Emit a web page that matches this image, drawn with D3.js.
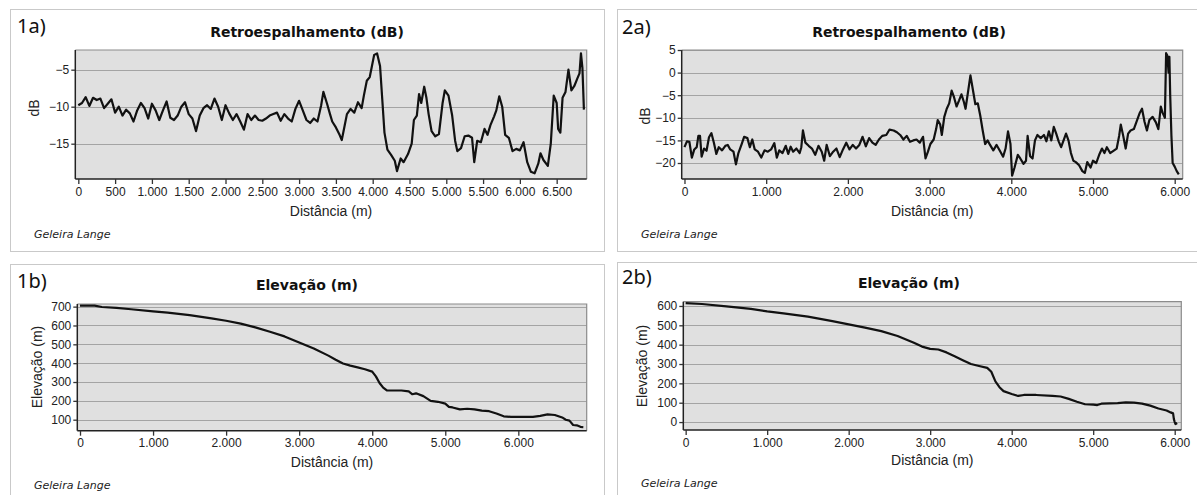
<!DOCTYPE html>
<html>
<head>
<meta charset="utf-8">
<script src="https://cdn.jsdelivr.net/npm/d3@7"></script>
<style>
  body { margin:0; background:#fff; }
  .tick text { font-family:"Liberation Sans", Arial, sans-serif; font-size:12px; fill:#222; }
</style>
</head>
<body>
<div id="canvas"></div>
<script>
// ---- data ----
// 1a) backscatter, glacier profile 1
const retro1Dist = [0,50,100,150,200,250,300,350,400,450,500,550,600,650,700,750,800,850,900,950,
  1000,1050,1100,1150,1200,1250,1300,1350,1400,1450,1500,1550,1600,1650,1700,1750,1800,1850,1900,1950,
  2000,2050,2100,2150,2200,2250,2300,2350,2400,2450,2500,2550,2600,2650,2700,2750,2800,2850,2900,2950,
  3000,3050,3100,3150,3200,3250,3300,3330,3380,3420,3450,3500,3550,3580,3620,3650,3700,3750,3800,3850,
  3880,3920,3960,3990,4020,4060,4100,4130,4160,4200,4250,4300,4330,4380,4420,4480,4530,4560,4600,4630,
  4660,4700,4730,4760,4800,4850,4900,4950,4980,5030,5080,5120,5150,5200,5250,5300,5350,5380,5420,5470,
  5520,5560,5600,5650,5680,5720,5760,5800,5850,5900,5950,6000,6050,6100,6150,6200,6250,6280,6320,6380,
  6420,6460,6500,6520,6550,6580,6620,6660,6700,6740,6780,6810,6830,6850,6870]
const retro1Db = [-9.8,-9.5,-8.7,-9.9,-8.8,-9.1,-8.9,-10.2,-9.6,-9.0,-10.8,-10.0,-11.2,-10.4,-10.9,-12.0,-10.5,-9.5,-10.2,-11.6,
  -9.6,-10.5,-11.8,-10.5,-9.3,-11.5,-11.8,-11.2,-10.0,-9.4,-11.0,-11.6,-13.3,-11.2,-10.2,-9.8,-10.3,-8.9,-10.0,-11.8,
  -9.8,-10.9,-11.8,-11.0,-12.0,-13.1,-11.0,-11.8,-11.2,-11.8,-11.9,-11.6,-11.2,-11.0,-10.8,-11.9,-11.0,-11.6,-12.0,-10.3,
  -9.2,-10.5,-11.8,-12.2,-11.6,-12.0,-9.8,-8.0,-9.6,-11.0,-12.0,-12.8,-13.8,-14.5,-12.5,-11.0,-10.3,-10.8,-9.4,-10.2,
  -8.5,-6.5,-6.0,-4.5,-3.0,-2.8,-4.5,-9.0,-13.5,-15.8,-16.5,-17.3,-18.7,-17.0,-17.5,-16.4,-15.0,-11.8,-11.2,-8.3,
  -9.5,-7.3,-8.8,-11.0,-13.3,-14.0,-13.7,-9.5,-7.8,-8.5,-11.2,-14.6,-16.0,-15.6,-14.0,-13.9,-14.2,-17.5,-14.6,-14.8,
  -13.0,-13.8,-12.5,-11.3,-10.5,-8.6,-10.0,-13.8,-14.2,-16.0,-15.7,-15.9,-14.8,-17.5,-18.8,-19.0,-17.7,-16.3,-17.2,-18.0,
  -15.0,-8.5,-9.5,-13.0,-13.5,-8.8,-8.0,-5.0,-7.8,-7.2,-6.2,-5.5,-2.8,-4.8,-10.4]

// 2a) backscatter, glacier profile 2
const retro2Dist = [0,30,60,90,120,150,170,190,210,240,270,300,330,360,390,420,460,500,530,560,
  600,630,660,700,730,770,800,830,860,900,940,980,1020,1060,1100,1130,1160,1200,1240,1270,
  1300,1330,1370,1410,1430,1450,1480,1520,1560,1600,1640,1680,1710,1740,1780,1820,1860,1900,1940,1980,
  2020,2060,2100,2140,2180,2220,2260,2300,2340,2380,2420,2470,2510,2560,2600,2640,2680,2720,2760,2800,
  2840,2880,2920,2950,2980,3010,3050,3080,3100,3130,3150,3180,3210,3240,3270,3300,3330,3360,3390,3420,
  3440,3470,3500,3530,3560,3590,3620,3650,3680,3710,3740,3780,3820,3860,3900,3930,3960,3990,4010,4040,
  4080,4110,4150,4180,4200,4230,4260,4290,4320,4360,4400,4430,4460,4490,4520,4550,4580,4610,4640,4670,
  4700,4730,4760,4790,4830,4870,4900,4930,4970,5000,5040,5080,5110,5140,5170,5210,5250,5290,5320,5340,
  5370,5400,5430,5460,5500,5530,5570,5600,5630,5660,5690,5730,5770,5800,5830,5850,5880,5895,5910,5925,
  5935,5945,5960,5975,6000,6025,6050]
const retro2Db = [-16.5,-15.2,-15.3,-18.8,-17.0,-16.5,-14.0,-14.0,-18.6,-16.8,-17.3,-14.3,-13.4,-15.5,-18.0,-16.5,-17.2,-16.2,-16.0,-17.0,
  -17.5,-20.3,-17.8,-15.8,-14.2,-14.5,-16.5,-14.8,-17.0,-17.5,-18.8,-17.2,-17.5,-17.0,-15.6,-18.8,-17.2,-17.8,-16.2,-18.0,
  -16.4,-17.5,-16.8,-17.8,-16.5,-12.8,-15.5,-16.2,-16.8,-18.2,-16.2,-17.5,-19.5,-16.0,-18.5,-17.5,-16.8,-18.7,-17.0,-15.5,
  -17.0,-16.0,-16.8,-16.0,-14.2,-16.3,-14.5,-15.5,-16.0,-14.8,-14.0,-13.8,-12.6,-12.8,-13.2,-13.8,-14.8,-14.0,-15.3,-15.0,
  -14.8,-15.5,-14.2,-19.0,-17.5,-15.8,-14.8,-12.5,-10.5,-11.5,-13.8,-9.8,-8.0,-6.8,-4.0,-5.5,-7.5,-6.2,-4.8,-6.5,
  -8.0,-4.3,-0.6,-3.8,-7.0,-6.8,-9.5,-12.8,-15.8,-15.0,-16.0,-17.2,-16.0,-17.3,-18.6,-16.8,-13.0,-15.8,-22.8,-21.0,
  -18.2,-19.0,-20.2,-19.5,-14.0,-18.5,-19.0,-15.0,-13.8,-14.5,-13.8,-15.2,-13.0,-15.0,-12.0,-13.5,-15.2,-16.5,-15.0,-13.5,
  -15.0,-17.8,-19.5,-19.8,-20.5,-21.8,-22.2,-19.8,-21.0,-19.5,-20.0,-18.0,-16.8,-17.8,-16.5,-17.8,-17.3,-16.8,-14.0,-11.5,
  -14.0,-16.8,-13.5,-12.8,-12.5,-11.0,-9.0,-8.0,-10.8,-12.8,-10.5,-9.8,-11.0,-12.5,-7.5,-8.8,-10.0,4.3,3.8,0.0,
  3.5,-5.0,-14.0,-20.0,-20.8,-21.8,-22.5]

// 1b) elevation, glacier profile 1
const elev1Dist = [0,200,300,500,700,1000,1200,1500,1800,2000,2200,2400,2600,2800,3000,3200,3400,3500,3600,3700,
  3800,3900,4000,4050,4100,4150,4200,4300,4400,4500,4550,4600,4700,4800,4900,5000,5050,5100,5200,5300,
  5400,5500,5600,5700,5800,5900,6000,6100,6200,6300,6400,6500,6600,6650,6700,6750,6800,6850,6890]
const elev1M = [705,705,698,693,686,675,668,655,638,625,610,590,567,542,510,478,440,418,398,387,
  378,368,355,330,295,270,255,255,255,250,235,240,225,200,195,185,168,165,155,158,
  155,148,145,133,118,115,115,115,115,120,128,125,112,100,95,72,70,62,60]

// 2b) elevation, glacier profile 2
const elev2Dist = [0,200,500,800,1000,1200,1500,1800,2000,2200,2400,2600,2800,2900,3000,3100,3200,3300,3400,3500,
  3600,3700,3750,3800,3850,3900,4000,4080,4150,4300,4500,4600,4700,4800,4900,5000,5050,5100,5300,5400,
  5500,5600,5700,5800,5900,5950,5980,5990,6000,6010,6030]
const elev2M = [615,610,598,585,572,562,545,522,505,488,470,445,410,390,378,375,360,340,320,300,
  290,280,260,210,180,160,145,135,140,140,135,132,120,105,92,90,88,95,98,102,
  100,95,85,70,60,50,45,15,0,-10,-5]

// tick values
const xTicks1a = [0,500,1000,1500,2000,2500,3000,3500,4000,4500,5000,5500,6000,6500]
const xTicksK = [0,1000,2000,3000,4000,5000,6000]
const yTicks1a = [-5,-10,-15]
const yTicks2a = [5,0,-5,-10,-15,-20]
const yTicks1b = [100,200,300,400,500,600,700]
const yTicks2b = [0,100,200,300,400,500,600]

const retroTitle = 'Retroespalhamento (dB)'
const elevTitle = 'Elevação (m)'
const xLabel = 'Distância (m)'
const source = 'Geleira Lange'

// ---- layout ----
let width = 1197
let height = 495

const ptbr = d3.formatLocale({decimal:',', thousands:'.', grouping:[3], currency:['R$','']})
const fmt = ptbr.format(',d')

const panels = [
  {tag:'1a)', box:[10,9,604,251], plot:[75.3,50,586.7,179], xDom:[-41,6908], yDom:[-19.77,-2.34],
   xs:retro1Dist, ys:retro1Db, xt:xTicks1a, yt:yTicks1a, title:retroTitle, yLab:'dB', yLabPos:[34,108],
   tagY:33, titleY:37, xLabY:216, srcY:238},
  {tag:'2a)', box:[617,9,1201,251], plot:[681.7,50,1182.7,179], xDom:[-34,6098], yDom:[-23.54,5],
   xs:retro2Dist, ys:retro2Db, xt:xTicksK, yt:yTicks2a, title:retroTitle, yLab:'dB', yLabPos:[645,116],
   tagY:34, titleY:37, xLabY:216, srcY:238},
  {tag:'1b)', box:[10,264,604,505], plot:[77.3,304,586.7,430.7], xDom:[-37,6936], yDom:[41.6,714],
   xs:elev1Dist, ys:elev1M, xt:xTicksK, yt:yTicks1b, title:elevTitle, yLab:'Elevação (m)', yLabPos:[37,367],
   tagY:288, titleY:290, xLabY:467, srcY:489},
  {tag:'2b)', box:[617,262,1201,505], plot:[683.3,301.7,1181.3,430], xDom:[-29,6081], yDom:[-41,622],
   xs:elev2Dist, ys:elev2M, xt:xTicksK, yt:yTicks2b, title:elevTitle, yLab:'Elevação (m)', yLabPos:[642,366],
   tagY:284, titleY:288, xLabY:465, srcY:487}
]

const svg = d3.select('#canvas')
            .append('svg')
            .attr('width',width)
            .attr('height',height)

panels.forEach(p => {
  let [bx0,by0,bx1,by1] = p.box
  let [px0,py0,px1,py1] = p.plot
  let g = svg.append('g')

  // outer frame
  g.append('rect')
    .attr('x',bx0+0.5).attr('y',by0+0.5)
    .attr('width',bx1-bx0).attr('height',by1-by0)
    .attr('fill','#fff').attr('stroke','#c9c9c9')

  let x = d3.scaleLinear().domain(p.xDom).range([px0,px1])
  let y = d3.scaleLinear().domain(p.yDom).range([py1,py0])

  // plot background
  g.append('rect')
    .attr('x',px0).attr('y',py0)
    .attr('width',px1-px0).attr('height',py1-py0)
    .attr('fill','#e0e0e0')

  // grid
  g.selectAll('.grid')
    .data(p.yt).enter()
    .append('line')
    .attr('x1',px0).attr('x2',px1)
    .attr('y1',d=>Math.round(y(d))+0.5).attr('y2',d=>Math.round(y(d))+0.5)
    .attr('stroke','#a4a4a4').attr('stroke-width',1)

  // frame top/right
  g.append('path')
    .attr('d',`M${px0},${py0}H${px1}V${py1}`)
    .attr('fill','none').attr('stroke','#8c8c8c').attr('stroke-width',1.2)

  // line
  let line = d3.line().x(d=>x(d[0])).y(d=>y(d[1]))
  g.append('path')
    .datum(p.xs.map((d,i)=>[d,p.ys[i]]))
    .attr('d',line)
    .attr('fill','none').attr('stroke','#111').attr('stroke-width',2.2)
    .attr('stroke-linejoin','round')

  // axes
  let xAxis = g.append('g')
    .attr('transform',`translate(0,${py1})`)
    .call(d3.axisBottom(x).tickValues(p.xt).tickFormat(fmt).tickSizeOuter(0).tickSize(5).tickPadding(3))
  let yAxis = g.append('g')
    .attr('transform',`translate(${px0},0)`)
    .call(d3.axisLeft(y).tickValues(p.yt).tickFormat(fmt).tickSizeOuter(0).tickSize(4).tickPadding(2))
  xAxis.select('.domain').attr('d',`M${px0},0H${px1}`).attr('stroke','#222').attr('stroke-width',1.5)
  yAxis.select('.domain').attr('d',`M0,${py0}V${py1}`).attr('stroke','#222').attr('stroke-width',1.5)
  g.selectAll('.tick line').attr('stroke','#333').attr('stroke-width',1.3)
  g.selectAll('.tick text').attr('font-family',null).attr('font-size',null)

  // texts
  g.append('text')
    .text(p.tag)
    .attr('x',bx0+(p.tag[0]==='1'?7:5)).attr('y',p.tagY)
    .attr('font-family','"Noto Sans", sans-serif').attr('font-size',20).attr('fill','#111')

  g.append('text')
    .text(p.title)
    .attr('x',(bx0+bx1)/2).attr('y',p.titleY)
    .attr('text-anchor','middle')
    .attr('font-family','"DejaVu Sans", Verdana, sans-serif').attr('font-weight','bold')
    .attr('font-size',14).attr('fill','#111')

  g.append('text')
    .text(xLabel)
    .attr('x',(px0+px1)/2).attr('y',p.xLabY)
    .attr('text-anchor','middle')
    .attr('font-family','"Liberation Sans", Arial, sans-serif').attr('font-size',14).attr('fill','#222')

  g.append('text')
    .text(p.yLab)
    .attr('transform',`translate(${p.yLabPos[0]},${p.yLabPos[1]}) rotate(-90)`)
    .attr('text-anchor','middle').attr('dy','0.35em')
    .attr('font-family','"Liberation Sans", Arial, sans-serif').attr('font-size',14).attr('fill','#222')

  g.append('text')
    .text(source)
    .attr('x',bx0+24).attr('y',p.srcY)
    .attr('font-family','"DejaVu Sans", Verdana, sans-serif').attr('font-style','italic')
    .attr('font-size',11).attr('fill','#222')
})
</script>
</body>
</html>
